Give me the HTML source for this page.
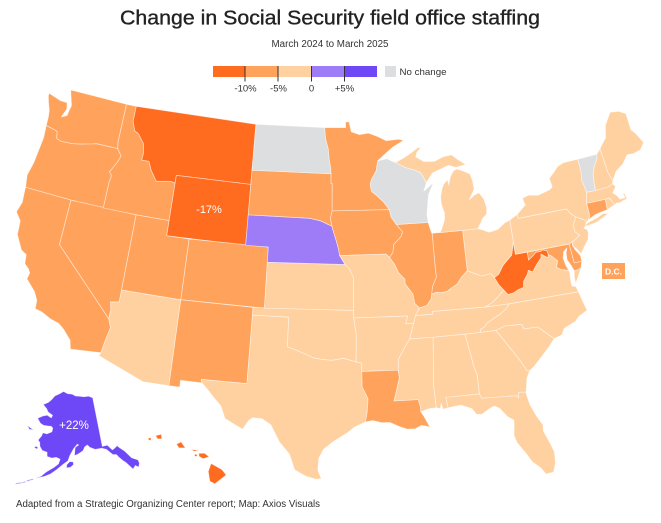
<!DOCTYPE html>
<html><head><meta charset="utf-8">
<style>
html,body{margin:0;padding:0;background:#fff;}
svg{display:block;font-family:"Liberation Sans",sans-serif;}
</style></head>
<body>
<svg id="s" width="661" height="523" viewBox="0 0 661 523" xmlns="http://www.w3.org/2000/svg">
<rect width="661" height="523" fill="#fff"/>
<text x="120" y="24.5" font-size="20" fill="#222" stroke="#222" stroke-width="0.35" textLength="420" lengthAdjust="spacingAndGlyphs">Change in Social Security field office staffing</text>
<text x="271.5" y="47" font-size="10" fill="#333" textLength="117" lengthAdjust="spacingAndGlyphs">March 2024 to March 2025</text>
<g>
<rect x="213" y="66" width="32" height="11" fill="#ff6c1f"/>
<rect x="245" y="66" width="33" height="11" fill="#ffa35c"/>
<rect x="278" y="66" width="33.5" height="11" fill="#ffd1a0"/>
<rect x="311.5" y="66" width="33" height="11" fill="#9e7cf7"/>
<rect x="344.5" y="66" width="32.5" height="11" fill="#6e48f7"/>
<g stroke="#333" stroke-width="1">
<line x1="245" y1="66" x2="245" y2="81.5"/>
<line x1="278" y1="66" x2="278" y2="81.5"/>
<line x1="311.5" y1="66" x2="311.5" y2="81.5"/>
<line x1="344.5" y1="66" x2="344.5" y2="81.5"/>
</g>
<g font-size="9.5" fill="#333" text-anchor="middle">
<text x="245.5" y="91.5">-10%</text>
<text x="278.5" y="91.5">-5%</text>
<text x="311.5" y="91.5">0</text>
<text x="344.5" y="91.5">+5%</text>
</g>
<rect x="385" y="66" width="11" height="11" fill="#dddedf"/>
<text x="399.5" y="75" font-size="9.5" fill="#333" textLength="47" lengthAdjust="spacingAndGlyphs">No change</text>
</g>
<g id="map" stroke="#ffffff" stroke-opacity="0.6" stroke-width="0.7" stroke-linejoin="round"></g>
<text x="209" y="213" font-size="11" fill="#fff" text-anchor="middle">-17%</text>
<text x="74" y="429" font-size="11.5" fill="#fff" text-anchor="middle">+22%</text>
<rect x="602" y="263" width="23" height="16" fill="#ffa35c"/>
<text x="613.5" y="274.3" font-size="8.5" font-weight="bold" fill="#fff" text-anchor="middle">D.C.</text>
<text x="16" y="507" font-size="10" fill="#333" textLength="304" lengthAdjust="spacingAndGlyphs">Adapted from a Strategic Organizing Center report; Map: Axios Visuals</text>
</svg>
<script>
(function(){
var R=Math.PI/180;
function conic(p1,p2,rot,center,k,t){
 var sy0=Math.sin(p1*R),n=(sy0+Math.sin(p2*R))/2,c=1+sy0*(2*n-sy0),r0=Math.sqrt(c)/n;
 function raw(l,p){var r=Math.sqrt(Math.max(0,c-2*n*Math.sin(p*R)))/n;return [r*Math.sin(l*R*n),r0-r*Math.cos(l*R*n)];}
 var cc=raw(center[0],center[1]);
 return function(lon,lat){var q=raw(lon+rot,lat);return [t[0]+k*(q[0]-cc[0]),t[1]-k*(q[1]-cc[1])];};
}
var K=870,TX=330,TY=284.4;
var L48=conic(29.5,45.5,96,[-0.6,38.7],K,[TX,TY]);
var AKp=conic(55,65,154,[-2,58.5],0.35*K,[TX-0.307*K,TY+0.201*K]);
var HIp=conic(8,18,157,[-3,19.9],K,[TX-0.205*K,TY+0.212*K]);
var C={D:"#ff6c1f",M:"#ffa35c",L:"#ffd1a0",P1:"#9e7cf7",P2:"#6e48f7",G:"#dddedf"};
var S=[
["M",[[-124.7,48.38],[-123.4,48.12],[-122.75,48.12],[-122.6,47.7],[-122.9,47.1],[-122.4,47.3],[-122.35,47.65],[-122.25,48.0],[-122.5,48.5],[-122.75,49.0],[-117.04,49.0],[-117.04,46.43],[-116.92,46.0],[-118.98,46.0],[-119.3,45.93],[-120.5,45.7],[-121.2,45.6],[-122.3,45.55],[-122.76,45.65],[-122.9,46.1],[-123.2,46.17],[-124.05,46.27],[-124.1,46.9],[-124.2,47.3],[-124.5,47.8],[-124.7,48.2]]],
["M",[[-124.05,46.27],[-123.2,46.17],[-122.9,46.1],[-122.76,45.65],[-122.3,45.55],[-121.2,45.6],[-120.5,45.7],[-119.3,45.93],[-118.98,46.0],[-116.92,46.0],[-116.47,45.57],[-116.7,45.1],[-117.2,44.4],[-116.97,44.2],[-116.96,44.0],[-117.03,43.8],[-117.03,42.0],[-120.0,42.0],[-124.21,42.0],[-124.4,42.8],[-124.15,43.7],[-124.05,44.6],[-123.95,45.5]]],
["M",[[-124.21,42.0],[-120.0,42.0],[-120.0,39.0],[-114.63,35.0],[-114.35,34.45],[-114.55,33.6],[-114.72,32.72],[-117.12,32.53],[-117.3,33.1],[-118.0,33.7],[-118.5,34.0],[-119.2,34.15],[-120.0,34.45],[-120.6,34.55],[-120.65,35.1],[-121.0,35.6],[-121.9,36.3],[-121.8,36.7],[-122.0,36.95],[-122.4,37.2],[-122.5,37.8],[-123.0,38.0],[-123.7,38.9],[-123.8,39.8],[-124.35,40.3],[-124.1,41.0],[-124.2,41.8]]],
["M",[[-120.0,42.0],[-114.04,42.0],[-114.05,37.0],[-114.05,36.2],[-114.75,36.1],[-114.6,35.6],[-114.63,35.0],[-120.0,39.0]]],
["L",[[-114.05,37.0],[-109.05,37.0],[-109.05,31.33],[-111.07,31.33],[-114.81,32.5],[-114.72,32.72],[-114.55,33.6],[-114.35,34.45],[-114.63,35.0],[-114.6,35.6],[-114.75,36.1],[-114.05,36.2]]],
["M",[[-114.04,42.0],[-111.05,42.0],[-111.05,41.0],[-109.05,41.0],[-109.05,37.0],[-114.05,37.0]]],
["M",[[-117.04,49.0],[-116.05,49.0],[-116.05,47.98],[-115.7,47.4],[-115.3,47.26],[-114.6,46.65],[-114.45,46.0],[-114.5,45.6],[-113.8,45.6],[-113.45,45.06],[-112.8,44.4],[-112.4,44.45],[-111.5,44.55],[-111.05,44.5],[-111.05,42.0],[-114.04,42.0],[-117.03,42.0],[-117.03,43.8],[-116.96,44.0],[-116.97,44.2],[-117.2,44.4],[-116.7,45.1],[-116.47,45.57],[-116.92,46.0],[-117.04,46.43]]],
["D",[[-116.05,49.0],[-104.05,49.0],[-104.05,45.0],[-111.05,45.0],[-111.05,44.5],[-111.5,44.55],[-112.4,44.45],[-112.8,44.4],[-113.45,45.06],[-113.8,45.6],[-114.5,45.6],[-114.45,46.0],[-114.6,46.65],[-115.3,47.26],[-115.7,47.4],[-116.05,47.98]]],
["D",[[-111.05,45.0],[-104.05,45.0],[-104.05,41.0],[-111.05,41.0]]],
["M",[[-109.05,41.0],[-102.05,41.0],[-102.05,37.0],[-109.05,37.0]]],
["M",[[-109.05,37.0],[-103.0,37.0],[-103.0,36.5],[-103.04,32.0],[-106.62,32.0],[-106.53,31.78],[-108.21,31.78],[-108.21,31.33],[-109.05,31.33]]],
["L",[[-103.0,36.5],[-100.0,36.5],[-100.0,34.56],[-99.4,34.4],[-98.6,34.15],[-97.9,33.9],[-97.2,33.8],[-96.4,33.75],[-95.5,33.88],[-94.48,33.64],[-94.04,33.55],[-94.04,31.99],[-93.6,31.2],[-93.7,30.3],[-93.84,29.68],[-94.7,29.35],[-95.2,29.0],[-96.3,28.4],[-97.0,27.9],[-97.35,27.3],[-97.4,26.5],[-97.15,25.95],[-97.5,25.9],[-98.3,26.1],[-99.1,26.5],[-99.5,27.5],[-100.3,28.3],[-101.0,29.4],[-101.7,29.77],[-102.4,29.8],[-102.7,29.6],[-103.1,29.0],[-103.6,29.2],[-104.5,29.6],[-104.9,30.4],[-105.5,30.9],[-106.0,31.35],[-106.53,31.78],[-106.62,32.0],[-103.04,32.0]]],
["L",[[-103.0,37.0],[-94.62,37.0],[-94.62,36.5],[-94.43,35.4],[-94.48,33.64],[-95.5,33.88],[-96.4,33.75],[-97.2,33.8],[-97.9,33.9],[-98.6,34.15],[-99.4,34.4],[-100.0,34.56],[-100.0,36.5],[-103.0,36.5]]],
["L",[[-102.05,40.0],[-95.31,40.0],[-94.95,39.75],[-94.6,39.15],[-94.62,37.0],[-102.05,37.0]]],
["P1",[[-104.05,43.0],[-98.5,43.0],[-97.5,42.85],[-96.45,42.49],[-96.35,42.2],[-96.05,41.5],[-95.87,41.0],[-95.77,40.58],[-95.31,40.0],[-102.05,40.0],[-102.05,41.0],[-104.05,41.0]]],
["M",[[-104.05,45.94],[-96.56,45.94],[-96.56,45.3],[-96.45,45.3],[-96.45,43.5],[-96.6,43.0],[-96.45,42.49],[-97.5,42.85],[-98.5,43.0],[-104.05,43.0]]],
["G",[[-104.05,49.0],[-97.23,49.0],[-97.1,48.2],[-96.85,47.6],[-96.75,46.9],[-96.6,46.3],[-96.56,45.94],[-104.05,45.94]]],
["M",[[-97.23,49.0],[-95.15,49.0],[-95.15,49.38],[-94.8,49.38],[-94.6,48.72],[-93.8,48.52],[-92.9,48.6],[-92.0,48.35],[-91.2,48.05],[-90.0,48.1],[-89.5,48.0],[-90.6,47.6],[-91.5,47.1],[-92.1,46.75],[-92.29,46.08],[-92.75,45.55],[-92.9,45.2],[-92.8,44.75],[-92.3,44.45],[-91.7,44.0],[-91.22,43.5],[-96.45,43.5],[-96.45,45.3],[-96.56,45.3],[-96.56,45.94],[-96.6,46.3],[-96.75,46.9],[-96.85,47.6],[-97.1,48.2]]],
["M",[[-96.45,43.5],[-91.22,43.5],[-91.1,43.0],[-90.65,42.5],[-90.15,42.0],[-90.3,41.7],[-91.0,41.2],[-91.1,40.7],[-91.42,40.38],[-91.73,40.61],[-95.77,40.58],[-95.87,41.0],[-96.05,41.5],[-96.35,42.2],[-96.45,42.49],[-96.6,43.0]]],
["L",[[-95.77,40.58],[-91.73,40.61],[-91.42,40.38],[-91.0,39.9],[-90.7,39.35],[-90.2,38.9],[-90.2,38.6],[-89.6,37.9],[-89.5,37.3],[-89.15,37.0],[-89.3,36.75],[-89.5,36.5],[-89.7,36.0],[-90.37,36.0],[-90.15,36.5],[-94.62,36.5],[-94.62,37.0],[-94.6,39.15],[-94.95,39.75],[-95.31,40.0]]],
["L",[[-94.62,36.5],[-90.15,36.5],[-90.37,36.0],[-89.7,36.0],[-90.1,35.0],[-90.6,34.4],[-91.1,33.7],[-91.17,33.0],[-94.04,33.0],[-94.04,33.55],[-94.48,33.64],[-94.43,35.4]]],
["M",[[-94.04,33.0],[-91.17,33.0],[-91.1,32.5],[-91.4,31.6],[-91.6,31.0],[-89.73,31.0],[-89.6,30.5],[-89.6,30.18],[-89.4,29.9],[-89.0,29.15],[-89.6,29.3],[-90.1,29.1],[-90.7,29.1],[-91.3,29.3],[-92.0,29.6],[-92.6,29.6],[-93.3,29.77],[-93.84,29.68],[-93.7,30.3],[-93.6,31.2],[-94.04,31.99]]],
["L",[[-90.1,35.0],[-88.2,35.0],[-88.47,31.9],[-88.4,30.38],[-89.0,30.35],[-89.6,30.18],[-89.6,30.5],[-89.73,31.0],[-91.6,31.0],[-91.4,31.6],[-91.1,32.5],[-91.17,33.0],[-91.1,33.7],[-90.6,34.4]]],
["L",[[-88.2,35.0],[-85.6,35.0],[-85.18,32.8],[-85.0,32.3],[-85.0,31.0],[-87.6,31.0],[-87.5,30.3],[-87.9,30.25],[-88.0,30.65],[-88.1,30.3],[-88.4,30.38],[-88.47,31.9]]],
["L",[[-85.6,35.0],[-83.1,35.0],[-82.7,34.5],[-82.2,33.8],[-81.9,33.4],[-81.5,32.8],[-81.1,32.1],[-80.9,32.05],[-81.2,31.6],[-81.4,30.8],[-81.45,30.71],[-82.0,30.78],[-82.05,30.4],[-82.2,30.57],[-84.86,30.7],[-85.0,31.0],[-85.0,32.3],[-85.18,32.8]]],
["L",[[-87.6,31.0],[-85.0,31.0],[-84.86,30.7],[-82.2,30.57],[-82.05,30.4],[-82.0,30.78],[-81.45,30.71],[-81.3,29.9],[-80.95,29.1],[-80.55,28.4],[-80.6,28.0],[-80.2,27.0],[-80.05,26.5],[-80.1,25.8],[-80.35,25.2],[-80.9,25.15],[-81.2,25.6],[-81.75,26.1],[-82.1,26.7],[-82.65,27.5],[-82.8,28.0],[-82.7,28.6],[-82.65,29.0],[-83.1,29.3],[-83.6,29.9],[-84.0,30.1],[-84.4,29.95],[-85.0,29.65],[-85.4,29.7],[-85.7,30.1],[-86.5,30.4],[-87.2,30.35],[-87.5,30.3]]],
["L",[[-83.1,35.0],[-82.3,35.2],[-81.05,35.15],[-80.9,35.1],[-80.8,34.82],[-79.7,34.8],[-78.55,33.86],[-79.2,33.3],[-79.9,32.75],[-80.5,32.3],[-80.9,32.05],[-81.1,32.1],[-81.5,32.8],[-81.9,33.4],[-82.2,33.8],[-82.7,34.5]]],
["L",[[-84.32,35.0],[-83.1,35.0],[-82.3,35.2],[-81.05,35.15],[-80.9,35.1],[-80.8,34.82],[-79.7,34.8],[-78.55,33.86],[-77.9,34.0],[-77.6,34.4],[-76.6,34.7],[-76.3,34.95],[-75.5,35.25],[-75.7,35.9],[-75.87,36.55],[-81.68,36.59],[-82.0,36.3],[-82.6,36.0],[-83.1,35.8],[-83.7,35.55],[-84.0,35.3],[-84.32,35.2]]],
["L",[[-90.1,35.0],[-88.2,35.0],[-85.6,35.0],[-84.32,35.0],[-84.32,35.2],[-84.0,35.3],[-83.7,35.55],[-83.1,35.8],[-82.6,36.0],[-82.0,36.3],[-81.68,36.59],[-83.68,36.6],[-88.07,36.68],[-88.07,36.5],[-89.5,36.5],[-89.7,36.0]]],
["L",[[-89.5,36.5],[-88.07,36.5],[-88.07,36.68],[-83.68,36.6],[-83.0,36.85],[-82.3,37.3],[-81.97,37.54],[-82.3,37.9],[-82.6,38.42],[-82.85,38.72],[-83.65,38.63],[-84.2,38.85],[-84.82,39.1],[-85.4,38.7],[-85.8,38.3],[-86.3,38.1],[-86.7,37.9],[-87.2,37.85],[-87.6,37.9],[-88.03,37.8],[-88.1,37.5],[-88.5,37.1],[-89.13,36.98],[-89.3,36.75]]],
["L",[[-83.68,36.6],[-81.68,36.59],[-75.87,36.55],[-76.0,36.92],[-76.3,37.0],[-76.3,37.5],[-76.25,37.9],[-76.3,38.05],[-76.9,38.2],[-77.25,38.4],[-77.05,38.8],[-77.5,39.2],[-77.73,39.32],[-77.83,39.13],[-78.35,39.45],[-78.4,39.2],[-78.9,38.8],[-79.3,38.4],[-79.65,38.55],[-79.8,38.3],[-80.2,37.9],[-80.3,37.5],[-80.8,37.4],[-81.2,37.25],[-81.68,37.2],[-81.97,37.54],[-82.3,37.3],[-83.0,36.85]]],
["L",[[-75.65,37.95],[-75.25,38.03],[-75.6,37.55],[-75.95,37.12],[-75.95,37.55],[-75.85,37.95]]],
["D",[[-80.52,40.64],[-80.52,39.72],[-79.48,39.72],[-79.48,39.2],[-79.0,39.45],[-78.76,39.62],[-78.3,39.62],[-78.2,39.7],[-77.8,39.6],[-77.73,39.32],[-77.83,39.13],[-78.35,39.45],[-78.4,39.2],[-78.9,38.8],[-79.3,38.4],[-79.65,38.55],[-79.8,38.3],[-80.2,37.9],[-80.3,37.5],[-80.8,37.4],[-81.2,37.25],[-81.68,37.2],[-81.97,37.54],[-82.3,37.9],[-82.6,38.42],[-82.2,38.6],[-81.75,39.1],[-81.4,39.35],[-80.85,39.7],[-80.6,40.35]]],
["M",[[-79.48,39.72],[-75.79,39.72],[-75.7,38.45],[-75.05,38.45],[-75.25,38.03],[-75.65,37.95],[-75.85,37.95],[-76.0,38.3],[-76.25,38.75],[-76.2,39.2],[-76.05,39.5],[-76.4,39.3],[-76.55,38.9],[-76.45,38.4],[-76.3,38.05],[-76.9,38.2],[-77.25,38.4],[-77.05,38.8],[-77.5,39.2],[-77.73,39.32],[-77.8,39.6],[-78.2,39.7],[-78.3,39.62],[-78.76,39.62],[-79.0,39.45],[-79.48,39.2]]],
["M",[[-75.79,39.72],[-75.45,39.82],[-75.55,39.6],[-75.4,39.3],[-75.05,38.8],[-75.05,38.45],[-75.7,38.45]]],
["L",[[-80.52,41.98],[-79.76,42.27],[-79.76,42.0],[-75.36,42.0],[-75.05,41.6],[-74.7,41.35],[-75.1,40.85],[-75.05,40.4],[-74.73,40.15],[-75.1,39.95],[-75.45,39.82],[-75.79,39.72],[-80.52,39.72],[-80.52,40.64]]],
["L",[[-74.7,41.35],[-73.9,40.99],[-74.0,40.7],[-74.25,40.5],[-74.0,40.4],[-73.95,40.2],[-74.1,39.75],[-74.6,39.3],[-74.95,38.93],[-75.2,39.25],[-75.5,39.55],[-75.45,39.82],[-75.1,39.95],[-74.73,40.15],[-75.05,40.4],[-75.1,40.85]]],
["L",[[-79.76,42.27],[-79.76,42.0],[-75.36,42.0],[-75.05,41.6],[-74.7,41.35],[-73.9,40.99],[-73.92,40.8],[-73.66,41.0],[-73.48,41.22],[-73.49,42.05],[-73.26,42.75],[-73.43,43.6],[-73.35,44.0],[-73.3,44.5],[-73.35,45.0],[-74.7,45.0],[-75.3,44.85],[-75.8,44.5],[-76.3,44.2],[-76.2,43.6],[-76.5,43.45],[-77.6,43.25],[-78.5,43.37],[-79.05,43.25],[-79.0,42.95],[-78.9,42.8]]],
["L",[[-74.05,40.6],[-73.0,40.7],[-71.85,41.07],[-72.3,41.15],[-73.0,40.95],[-73.75,40.82],[-74.0,40.7]]],
["G",[[-73.35,45.0],[-71.5,45.01],[-71.6,44.7],[-72.0,44.3],[-72.3,43.8],[-72.4,43.2],[-72.46,42.73],[-73.26,42.75],[-73.43,43.6],[-73.35,44.0],[-73.3,44.5]]],
["L",[[-71.5,45.01],[-71.08,45.3],[-70.99,44.3],[-70.95,43.7],[-70.7,43.08],[-70.82,42.87],[-71.25,42.74],[-72.46,42.73],[-72.4,43.2],[-72.3,43.8],[-72.0,44.3],[-71.6,44.7]]],
["L",[[-71.08,45.3],[-70.85,45.5],[-70.3,45.9],[-70.0,46.7],[-69.22,47.45],[-68.4,47.35],[-67.8,47.07],[-67.78,45.95],[-67.45,45.6],[-67.0,44.9],[-67.5,44.5],[-68.2,44.4],[-68.8,44.45],[-69.4,43.95],[-70.2,43.6],[-70.7,43.08],[-70.95,43.7],[-70.99,44.3]]],
["L",[[-73.5,42.05],[-73.26,42.75],[-72.46,42.73],[-71.25,42.74],[-70.82,42.87],[-70.6,42.65],[-71.0,42.3],[-70.65,42.0],[-70.55,41.78],[-70.05,41.78],[-70.1,41.98],[-70.2,42.07],[-70.0,42.05],[-69.93,41.8],[-69.95,41.67],[-70.3,41.63],[-70.6,41.55],[-70.9,41.6],[-71.12,41.5],[-71.38,42.02],[-71.8,42.01]]],
["L",[[-71.8,42.01],[-71.38,42.02],[-71.12,41.5],[-71.4,41.45],[-71.85,41.32]]],
["M",[[-73.49,42.05],[-71.8,42.01],[-71.85,41.32],[-72.5,41.27],[-73.0,41.2],[-73.66,41.0],[-73.48,41.22]]],
["L",[[-84.82,39.1],[-84.81,41.74],[-83.45,41.73],[-83.0,41.6],[-82.5,41.4],[-81.7,41.5],[-81.0,41.85],[-80.52,41.98],[-80.52,40.64],[-80.6,40.35],[-80.85,39.7],[-81.4,39.35],[-81.75,39.1],[-82.2,38.6],[-82.6,38.42],[-82.85,38.72],[-83.65,38.63],[-84.2,38.85]]],
["M",[[-87.53,41.76],[-84.81,41.74],[-84.82,39.1],[-85.4,38.7],[-85.8,38.3],[-86.3,38.1],[-86.7,37.9],[-87.2,37.85],[-87.6,37.9],[-88.03,37.8],[-87.9,38.3],[-87.5,38.9],[-87.53,39.35]]],
["M",[[-87.53,41.7],[-87.53,39.35],[-87.5,38.9],[-87.9,38.3],[-88.03,37.8],[-88.1,37.5],[-88.5,37.1],[-89.13,36.98],[-89.5,37.3],[-89.6,37.9],[-90.2,38.6],[-90.2,38.9],[-90.7,39.35],[-91.0,39.9],[-91.42,40.38],[-91.1,40.7],[-91.0,41.2],[-90.3,41.7],[-90.15,42.0],[-90.65,42.5],[-87.8,42.49],[-87.65,42.0]]],
["G",[[-90.65,42.5],[-87.8,42.49],[-87.85,43.0],[-87.7,43.7],[-87.55,44.3],[-87.0,45.05],[-87.4,44.85],[-87.95,44.55],[-87.65,45.1],[-87.8,45.35],[-88.1,45.8],[-88.7,46.0],[-89.5,46.2],[-90.4,46.57],[-90.8,46.7],[-91.2,46.85],[-92.1,46.75],[-92.29,46.08],[-92.75,45.55],[-92.9,45.2],[-92.8,44.75],[-92.3,44.45],[-91.7,44.0],[-91.22,43.5],[-91.1,43.0]]],
["L",[[-86.82,41.76],[-84.81,41.74],[-83.45,41.73],[-83.15,42.05],[-82.9,42.35],[-82.5,42.6],[-82.4,43.0],[-82.55,43.6],[-82.9,44.05],[-83.35,43.95],[-83.9,43.65],[-83.5,44.1],[-83.3,44.35],[-83.35,44.9],[-83.5,45.35],[-84.2,45.65],[-84.7,45.78],[-85.0,45.7],[-85.3,45.4],[-85.4,45.25],[-85.6,44.8],[-85.65,45.15],[-86.05,44.9],[-86.25,44.6],[-86.45,44.1],[-86.45,43.6],[-86.25,43.0],[-86.3,42.6],[-86.6,42.05]]],
["L",[[-90.4,46.57],[-89.6,46.85],[-88.95,47.1],[-88.2,47.45],[-87.85,47.45],[-88.3,47.15],[-88.45,46.85],[-87.7,46.5],[-86.7,46.45],[-85.8,46.7],[-85.0,46.75],[-84.55,46.45],[-84.1,46.2],[-83.8,46.0],[-84.4,45.95],[-84.75,45.9],[-85.4,46.1],[-86.0,45.95],[-86.6,45.8],[-87.0,45.7],[-87.65,45.1],[-87.8,45.35],[-88.1,45.8],[-88.7,46.0],[-89.5,46.2]]]
];
var AK=[
[[-141.0,69.65],[-141.0,60.3],[-139.05,60.35],[-137.6,59.25],[-136.5,59.5],[-135.5,59.8],[-135.0,59.4],[-133.4,58.4],[-131.85,56.8],[-130.0,56.0],[-130.0,55.3],[-130.7,54.7],[-131.5,55.2],[-132.6,54.7],[-133.4,55.5],[-134.2,56.3],[-135.0,56.8],[-136.1,57.7],[-136.6,58.2],[-137.9,58.4],[-139.7,59.6],[-141.4,60.0],[-143.9,60.0],[-145.8,60.5],[-146.6,61.0],[-147.7,60.7],[-148.5,60.0],[-149.5,59.7],[-150.6,59.4],[-151.8,59.2],[-151.4,60.7],[-150.0,61.15],[-150.5,61.3],[-152.0,60.5],[-153.5,59.2],[-154.2,58.2],[-156.0,57.5],[-158.0,56.5],[-160.0,55.6],[-162.0,55.0],[-164.8,54.4],[-163.0,55.0],[-161.5,55.9],[-159.0,56.9],[-157.5,57.6],[-157.0,58.5],[-158.5,58.8],[-160.0,58.6],[-161.8,58.8],[-162.0,59.6],[-163.9,59.8],[-165.0,60.5],[-165.3,61.2],[-166.1,61.6],[-165.0,62.5],[-164.7,63.1],[-163.0,63.0],[-161.0,63.5],[-160.8,64.2],[-161.5,64.5],[-163.0,64.5],[-165.0,64.5],[-166.5,64.8],[-168.1,65.6],[-166.0,66.2],[-164.0,66.5],[-162.0,66.1],[-161.5,66.6],[-163.8,67.1],[-164.8,67.7],[-166.8,68.35],[-164.5,68.9],[-163.0,69.5],[-161.5,70.3],[-159.0,70.8],[-156.8,71.3],[-154.5,70.9],[-152.0,70.8],[-150.0,70.4],[-148.0,70.3],[-145.5,70.1],[-143.0,70.1]],
[[-152.3,58.0],[-152.2,57.5],[-153.3,57.0],[-154.7,56.9],[-154.6,57.5],[-153.5,58.1]],
[[-166.5,60.4],[-165.6,60.2],[-165.9,59.9],[-167.1,60.1]],
[[-171.7,63.8],[-170.0,63.5],[-168.7,63.3],[-170.5,63.2]]
];
var ale=[[-165.9,54.1],[-166.8,53.85],[-168.1,53.35],[-169.3,53.0],[-170.0,52.85]];
ale.forEach(function(p){AK.push([[p[0]-0.6,p[1]-0.15],[p[0]+0.4,p[1]+0.2],[p[0]+0.6,p[1]+0.05],[p[0]-0.35,p[1]-0.25]]);});
var HI=[
[[-155.85,20.27],[-155.08,19.85],[-154.8,19.5],[-155.6,18.92],[-155.95,19.1],[-156.05,19.75]],
[[-156.7,20.95],[-156.3,20.95],[-155.98,20.72],[-156.4,20.58],[-156.7,20.75]],
[[-157.3,21.2],[-156.7,21.16],[-157.0,21.08]],
[[-158.28,21.55],[-157.95,21.7],[-157.65,21.3],[-158.1,21.3]],
[[-159.75,22.1],[-159.35,22.2],[-159.3,21.9],[-159.6,21.88]],
[[-160.25,21.95],[-160.05,21.95],[-160.1,21.78],[-160.25,21.8]],
[[-157.0,20.9],[-156.8,20.85],[-156.85,20.75],[-157.0,20.75]]
];
var g=document.getElementById("map"),NS="http://www.w3.org/2000/svg";
function add(poly,proj,fill){
 var d="";poly.forEach(function(ring){ring.forEach(function(p,i){var q=proj(p[0],p[1]);d+=(i?"L":"M")+q[0].toFixed(2)+","+q[1].toFixed(2);});d+="Z";});
 var e=document.createElementNS(NS,"path");e.setAttribute("d",d);e.setAttribute("fill",fill);g.appendChild(e);
}
S.forEach(function(s){add([s[1]],L48,C[s[0]]);});
add(AK,AKp,C.P2);
add(HI,HIp,C.D);
})();
</script>
</body></html>
